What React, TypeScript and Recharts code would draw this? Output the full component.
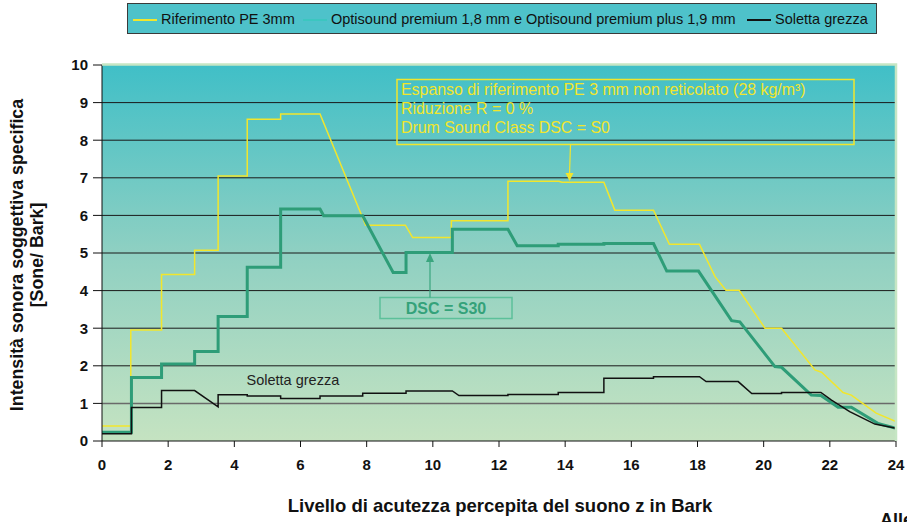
import React from 'react';
import { LineChart, Line, XAxis, YAxis, CartesianGrid, ReferenceLine } from 'recharts';

// Bark scale (x) and specific loudness in Sone/Bark (y)
const riferimentoPE: [number, number][] = [
  [0, 0.4], [0.87, 0.4], [0.87, 2.95], [1.8, 2.95], [1.8, 4.43], [2.8, 4.43], [2.8, 5.07],
  [3.51, 5.07], [3.51, 7.05], [4.39, 7.05], [4.39, 8.56], [5.4, 8.56], [5.4, 8.7], [6.59, 8.7],
  [7.97, 5.74], [9.17, 5.74], [9.39, 5.41], [10.56, 5.41], [10.56, 5.86], [12.27, 5.86],
  [12.27, 6.91], [13.81, 6.91], [13.9, 6.88], [15.17, 6.88], [15.5, 6.14], [16.67, 6.14],
  [17.15, 5.23], [18.06, 5.23], [18.53, 4.37], [18.86, 4.01], [19.26, 4.01], [20.04, 3.0],
  [20.54, 3.0], [21.55, 1.89], [21.75, 1.83], [22.4, 1.29], [22.65, 1.22], [23.4, 0.74], [24, 0.52],
];

const optisound: [number, number][] = [
  [0, 0.23], [0.89, 0.23], [0.89, 1.69], [1.8, 1.69], [1.8, 2.05], [2.8, 2.05], [2.8, 2.38],
  [3.51, 2.38], [3.51, 3.31], [4.39, 3.31], [4.39, 4.62], [5.4, 4.62], [5.4, 6.17], [6.59, 6.17],
  [6.7, 5.99], [7.88, 5.99], [8.8, 4.48], [9.19, 4.48], [9.19, 5.01], [10.59, 5.01], [10.59, 5.63],
  [12.27, 5.63], [12.55, 5.19], [13.79, 5.19], [13.79, 5.23], [15.17, 5.23], [15.17, 5.25],
  [16.67, 5.25], [17.07, 4.52], [18.03, 4.52], [19.03, 3.2], [19.28, 3.17], [20.34, 1.98],
  [20.54, 1.96], [21.44, 1.22], [21.73, 1.21], [22.25, 0.9], [22.65, 0.9], [23.45, 0.47], [24, 0.34],
];

const solettaGrezza: [number, number][] = [
  [0, 0.19], [0.89, 0.19], [0.89, 0.89], [1.8, 0.89], [1.8, 1.34], [2.8, 1.34], [3.51, 0.91],
  [3.51, 1.23], [4.39, 1.23], [4.39, 1.2], [5.4, 1.2], [5.4, 1.13], [6.59, 1.13], [6.59, 1.2],
  [7.88, 1.2], [7.88, 1.27], [9.19, 1.27], [9.19, 1.33], [10.59, 1.33], [10.79, 1.21], [12.27, 1.21],
  [12.27, 1.24], [13.79, 1.24], [13.79, 1.29], [15.17, 1.29], [15.17, 1.67], [16.67, 1.67],
  [16.67, 1.71], [18.06, 1.71], [18.26, 1.58], [19.23, 1.58], [19.64, 1.26], [20.54, 1.26],
  [20.54, 1.29], [21.73, 1.29], [22.05, 1.09], [22.6, 0.78], [23.36, 0.45], [24, 0.34],
];

const X_TICKS = [0, 2, 4, 6, 8, 10, 12, 14, 16, 18, 20, 22, 24];
const Y_TICKS = [0, 1, 2, 3, 4, 5, 6, 7, 8, 9, 10];
const GRID_VALUES = [2, 3, 4, 5, 6, 7, 8, 9];

const SERIES_NAMES = [
  'Riferimento PE 3mm',
  'Optisound premium 1,8 mm e Optisound premium plus 1,9 mm',
  'Soletta grezza',
];
const NOTE_S0 = [
  'Espanso di riferimento PE 3 mm non reticolato (28 kg/m³)',
  'Riduzione R = 0 %',
  'Drum Sound Class DSC = S0',
];
const NOTE_S30 = 'DSC = S30';

const toRows = (pts: [number, number][]) => pts.map(([x, y]) => ({ x, y }));

const FONT = '"Liberation Sans", Arial, sans-serif';
const YELLOW = '#f2e62c';
const GREEN = '#2e9d78';

export default function App() {
  const tickStyle = { fontSize: 15, fontWeight: 700, fill: '#111', fontFamily: FONT };

  return (
    <div
      style={{
        position: 'absolute',
        left: 0,
        top: 0,
        width: 907,
        height: 522,
        overflow: 'hidden',
        background: '#fff',
        fontFamily: FONT,
      }}
    >
      <svg width={0} height={0} style={{ position: 'absolute' }}>
        <defs>
          <linearGradient id="plotBg" x1="0" y1="0" x2="0" y2="1">
            <stop offset="0%" stopColor="#40bfc7" />
            <stop offset="50%" stopColor="#8fd0c2" />
            <stop offset="100%" stopColor="#c5e3c1" />
          </linearGradient>
        </defs>
      </svg>

      <LineChart width={907} height={522} margin={{ top: 65, right: 11, bottom: 51, left: 42 }}>
        <CartesianGrid
          vertical={false}
          horizontalValues={GRID_VALUES}
          stroke="#1a1a1a"
          strokeWidth={1}
          fill="url(#plotBg)"
          fillOpacity={1}
        />
        <ReferenceLine y={1} stroke="#6a6a6a" strokeWidth={1.5} />
        <XAxis
          type="number"
          dataKey="x"
          domain={[0, 24]}
          ticks={X_TICKS}
          interval={0}
          height={30}
          tickSize={6}
          tickMargin={12}
          tick={tickStyle}
          stroke="#111"
          allowDataOverflow
        />
        <YAxis
          type="number"
          dataKey="y"
          domain={[0, 10]}
          ticks={Y_TICKS}
          interval={0}
          width={60}
          tickSize={9}
          tickMargin={5}
          tick={tickStyle}
          stroke="#111"
          allowDataOverflow
        />
        <Line
          data={toRows(riferimentoPE)}
          dataKey="y"
          type="linear"
          stroke={YELLOW}
          strokeWidth={1.5}
          dot={false}
          activeDot={false}
          isAnimationActive={false}
        />
        <Line
          data={toRows(optisound)}
          dataKey="y"
          type="linear"
          stroke={GREEN}
          strokeWidth={3}
          dot={false}
          activeDot={false}
          isAnimationActive={false}
        />
        <Line
          data={toRows(solettaGrezza)}
          dataKey="y"
          type="linear"
          stroke="#111"
          strokeWidth={1.5}
          dot={false}
          activeDot={false}
          isAnimationActive={false}
        />
      </LineChart>

      {/* legend */}
      <div
        style={{
          position: 'absolute',
          left: 127,
          top: 3,
          width: 750,
          height: 31,
          boxSizing: 'border-box',
          border: '1.5px solid #3a3a3a',
          background: '#4ec2ca',
        }}
      />
      {[
        { color: YELLOW, line: 133, text: 161 },
        { color: '#3cc6c0', line: 303, text: 331 },
        { color: '#111', line: 747, text: 775 },
      ].map((it, i) => (
        <React.Fragment key={i}>
          <div
            style={{ position: 'absolute', left: it.line, top: 19, width: 24, height: 2, background: it.color }}
          />
          <div
            style={{
              position: 'absolute',
              left: it.text,
              top: 11,
              fontSize: 14.5,
              lineHeight: '17px',
              color: '#111',
              whiteSpace: 'nowrap',
            }}
          >
            {SERIES_NAMES[i]}
          </div>
        </React.Fragment>
      ))}

      {/* annotations and axis titles */}
      <svg
        width={907}
        height={522}
        style={{ position: 'absolute', left: 0, top: 0, pointerEvents: 'none', fontFamily: FONT }}
      >
        <path d="M102 64.5 H896 V441" fill="none" stroke="#c6e6c4" strokeWidth={2.5} />

        <rect x={397} y={79.5} width={457} height={65} fill="none" stroke={YELLOW} strokeWidth={1.5} />
        {NOTE_S0.map((t, i) => (
          <text key={t} x={401} y={95 + i * 19} fontSize={15.9} fill={YELLOW}>
            {t}
          </text>
        ))}
        <line x1={570.5} y1={144.5} x2={569.5} y2={174} stroke={YELLOW} strokeWidth={1.2} />
        <path d="M565.5 173 L573.5 173 L569.5 181 Z" fill={YELLOW} />

        <rect x={380} y={297.5} width={132} height={21} fill="none" stroke="#5cc09a" strokeWidth={1.5} />
        <text x={446} y={314} fontSize={16} fontWeight={700} fill="#34a27a" textAnchor="middle">
          {NOTE_S30}
        </text>
        <line x1={430} y1={297.5} x2={430} y2={261} stroke="#3aa57e" strokeWidth={1.2} />
        <path d="M426 262 L434 262 L430 253 Z" fill="#3aa57e" />

        <text x={246.5} y={385} fontSize={14.5} fill="#222">
          Soletta grezza
        </text>

        <text
          transform="translate(23,255) rotate(-90)"
          textAnchor="middle"
          fontSize={17.8}
          fontWeight={700}
          fill="#111"
        >
          Intensità sonora soggettiva specifica
        </text>
        <text
          transform="translate(43,255) rotate(-90)"
          textAnchor="middle"
          fontSize={17.8}
          fontWeight={700}
          fill="#111"
        >
          [Sone/ Bark]
        </text>
        <text x={500} y={511.5} textAnchor="middle" fontSize={18.5} fontWeight={700} fill="#111">
          Livello di acutezza percepita del suono z in Bark
        </text>
        <text x={880} y={526} fontSize={18} fontWeight={700} fill="#111">
          Alle
        </text>
      </svg>
    </div>
  );
}
